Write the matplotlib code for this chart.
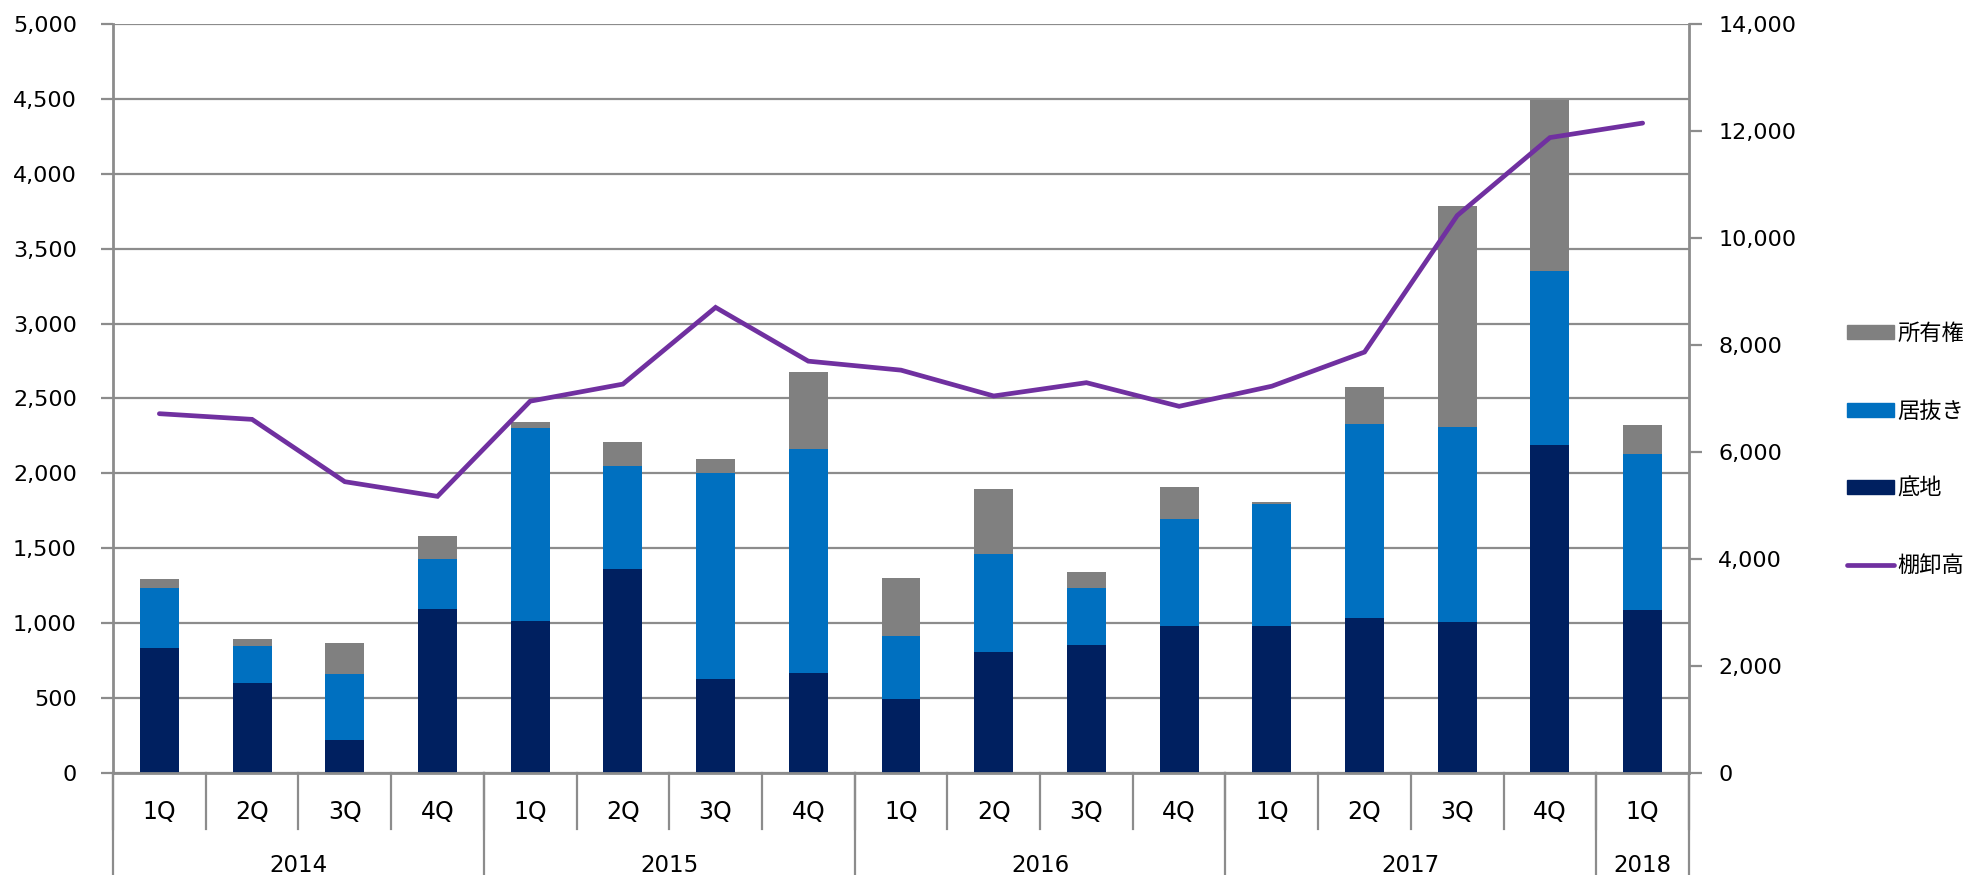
import numpy as np
import matplotlib.pyplot as plt
from matplotlib.patches import Patch
from matplotlib.lines import Line2D
from matplotlib.ticker import FuncFormatter

plt.rcParams['font.family'] = ['DejaVu Sans', 'Noto Sans CJK JP']

#### data ####
quarters = ['1Q', '2Q', '3Q', '4Q', '1Q', '2Q', '3Q', '4Q', '1Q', '2Q', '3Q', '4Q',
            '1Q', '2Q', '3Q', '4Q', '1Q']
years = ['2014', '2015', '2016', '2017', '2018']
year_sizes = [4, 4, 4, 4, 1]

sochi = [834, 599, 220, 1095, 1018, 1359, 625, 666, 495, 808, 852, 984, 983, 1035, 1008, 2190, 1088]
inuki_top = [1237, 850, 663, 1429, 2306, 2047, 2005, 2165, 916, 1464, 1235, 1693, 1794, 2328, 2307, 3351, 2131]
total = [1295, 895, 866, 1582, 2340, 2212, 2095, 2679, 1303, 1896, 1342, 1907, 1806, 2578, 3786, 4495, 2322]
tanaoroshi = [6716, 6610, 5445, 5171, 6950, 7269, 8703, 7698, 7530, 7047, 7296, 6854, 7230, 7868, 10420, 11877, 12148]

inuki = [a - b for a, b in zip(inuki_top, sochi)]
shoyu = [a - b for a, b in zip(total, inuki_top)]

navy = '#002060'
blue = '#0070C0'
grey = '#808080'
purple = '#7030A0'
axis_grey = '#8C8C8C'

fig = plt.figure(figsize=(19.68, 8.75), dpi=100)
ax = fig.add_axes([113 / 1968, 102 / 875, 1576 / 1968, 749 / 875])

x = np.arange(len(quarters))
w = 0.42
ax.bar(x, sochi, w, color=navy, label='底地')
ax.bar(x, inuki, w, bottom=sochi, color=blue, label='居抜き')
ax.bar(x, shoyu, w, bottom=inuki_top, color=grey, label='所有権')

ax.set_xlim(-0.5, len(quarters) - 0.5)
ax.set_ylim(0, 5000)
ax.set_yticks(np.arange(0, 5001, 500))
ax.yaxis.set_major_formatter(FuncFormatter(lambda v, p: '{:,}'.format(int(v))))
ax.yaxis.grid(True, color=axis_grey, linewidth=1.6)
ax.set_axisbelow(True)
ax.tick_params(axis='y', length=9, width=1.6, color=axis_grey, pad=17, labelsize=16)
ax.set_xticks([])

for s in ['top', 'right']:
    ax.spines[s].set_visible(False)
for s in ['left', 'bottom']:
    ax.spines[s].set_color(axis_grey)
    ax.spines[s].set_linewidth(2)

# secondary axis for the line
ax2 = ax.twinx()
ax2.plot(x, tanaoroshi, color=purple, linewidth=3.4, solid_capstyle='round',
         solid_joinstyle='miter', label='棚卸高')
ax2.set_ylim(0, 14000)
ax2.set_yticks(np.arange(0, 14001, 2000))
ax2.yaxis.set_major_formatter(FuncFormatter(lambda v, p: '{:,}'.format(int(v))))
ax2.tick_params(axis='y', length=9, width=1.6, color=axis_grey, pad=12, labelsize=16)
for s in ['top', 'left', 'bottom']:
    ax2.spines[s].set_visible(False)
ax2.spines['right'].set_color(axis_grey)
ax2.spines['right'].set_linewidth(2)

# two row category axis underneath
trans = ax.get_xaxis_transform()
ax_h = 749.0
for i, q in enumerate(quarters):
    ax.text(i, -39 / ax_h, q, transform=trans, ha='center', va='center', fontsize=17)
for i in range(len(quarters) + 1):
    ax.plot([i - 0.5, i - 0.5], [0, -56 / ax_h], transform=trans, color=axis_grey,
            linewidth=1.6, clip_on=False)
start = 0
for yr, n in zip(years, year_sizes):
    ax.text(start + n / 2 - 0.5, -92 / ax_h, yr, transform=trans, ha='center', va='center', fontsize=16.5)
    ax.plot([start - 0.5, start - 0.5], [0, -102 / ax_h], transform=trans, color=axis_grey,
            linewidth=1.6, clip_on=False)
    start += n
ax.plot([start - 0.5, start - 0.5], [0, -102 / ax_h], transform=trans, color=axis_grey,
        linewidth=1.6, clip_on=False)

handles = [Patch(color=grey), Patch(color=blue), Patch(color=navy),
           Line2D([0], [0], color=purple, linewidth=3.4, solid_capstyle='round')]
labels = ['所有権', '居抜き', '底地', '棚卸高']
fig.legend(handles, labels, loc='upper left', bbox_to_anchor=(1847 / 1968, 1 - 322 / 875),
           frameon=False, borderpad=0, borderaxespad=0, handlelength=2.1, handleheight=0.6,
           handletextpad=0.15, labelspacing=2.45,
           prop={'family': ['Noto Sans CJK JP', 'DejaVu Sans'], 'size': 16})

fig.savefig('out.png', dpi=100)
